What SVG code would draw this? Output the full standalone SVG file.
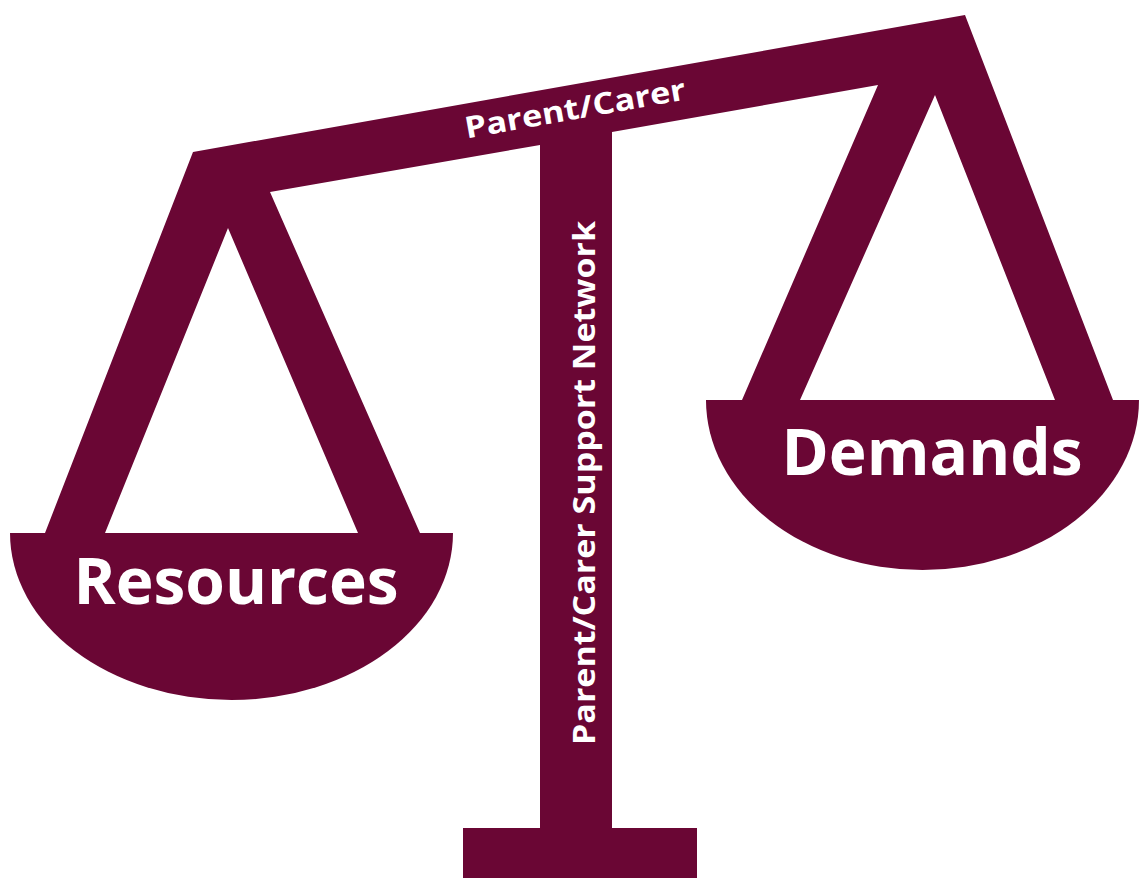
<svg xmlns="http://www.w3.org/2000/svg" width="1139" height="878" viewBox="0 0 1139 878">
<style>
.shape{fill:#6a0634;stroke:none}
.lbl{fill:#ffffff;font-family:"Open Sans","Liberation Sans",sans-serif;font-weight:700}
</style>
<rect width="1139" height="878" fill="#ffffff"/>
<g id="frame">
<polygon class="shape" points="193,152 965,15 1113,400 1055,400 935,95 800,400 742,400 878,85 612,132 612,828 697,828 697,878 463,878 463,828 540,828 540,145 270,192 420,533 358,533 228,228 105,533 45,533"/>
</g>
<g id="pan-left">
<path class="shape" d="M10,533 L453,533 A221.5,167 0 0 1 10,533 Z"/>
<text class="lbl" x="236" y="604" font-size="64" text-anchor="middle">Resources</text>
</g>
<g id="pan-right">
<path class="shape" d="M706,400 L1139,400 A216.5,170 0 0 1 706,400 Z"/>
<text class="lbl" x="932" y="475" font-size="64" text-anchor="middle">Demands</text>
</g>
<g id="beam-label">
<text class="lbl" x="575" y="119" font-size="30" text-anchor="middle" textLength="224" lengthAdjust="spacingAndGlyphs" transform="rotate(-10.06 575 108)">Parent/Carer</text>
</g>
<g id="pillar-label">
<text class="lbl" font-size="31" text-anchor="middle" textLength="524" lengthAdjust="spacingAndGlyphs" transform="translate(595,483) rotate(-90)">Parent/Carer Support Network</text>
</g>
<g id="connectors"></g>
</svg>
